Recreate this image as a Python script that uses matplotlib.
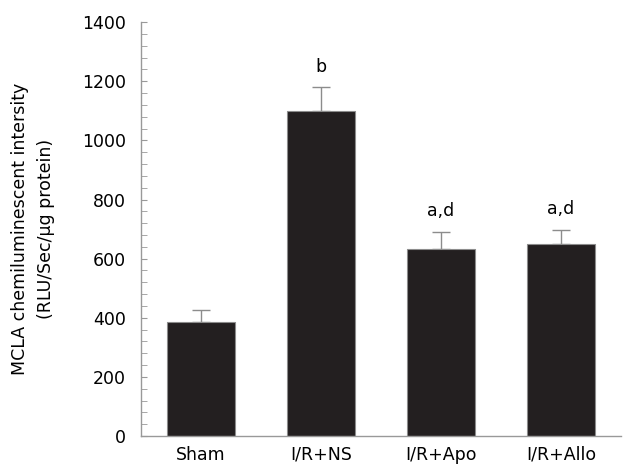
import matplotlib.pyplot as plt
from matplotlib.ticker import MultipleLocator

# Group names, means, upper error and significance letters
groups = ["Sham", "I/R+NS", "I/R+Apo", "I/R+Allo"]
means = [384, 1100, 632, 648]
errors = [42, 80, 59, 50]
marks = ["", "b", "a,d", "a,d"]

fs = 12.5

fig = plt.figure(figsize=(6.28, 4.71), dpi=100)
ax = fig.add_axes([0.2245, 0.0743, 0.7645, 0.8787])

x = range(len(groups))
ax.bar(x, means, width=0.56, color="#231f20", edgecolor="#8c8c8c", linewidth=0.8,
       zorder=2)
ax.errorbar(x, means, yerr=[[0] * len(errors), errors], fmt="none",
            ecolor="#8c8c8c", elinewidth=1, capsize=6.5, capthick=1, zorder=1)

for xi, m, e, t in zip(x, means, errors, marks):
    if t:
        ax.annotate(t, (xi, m + e), xytext=(0, 11), textcoords="offset points",
                    ha="center", va="baseline", fontsize=fs)

ax.set_xlim(-0.5, 3.5)
ax.set_ylim(0, 1400)
ax.yaxis.set_major_locator(MultipleLocator(200))
ax.yaxis.set_minor_locator(MultipleLocator(40))
ax.set_xticks(list(x))
ax.set_xticklabels(groups)

for side in ["top", "right"]:
    ax.spines[side].set_visible(False)
for side in ["left", "bottom"]:
    ax.spines[side].set_color("#999999")
    ax.spines[side].set_linewidth(1)

ax.tick_params(axis="y", which="both", direction="in", length=4, color="#999999",
               labelsize=fs, pad=11)
ax.tick_params(axis="x", length=0, labelsize=fs, pad=7)

ax.set_ylabel("MCLA chemiluminescent intersity\n(RLU/Sec/\u03bcg protein)",
              fontsize=fs, labelpad=19, linespacing=1.6)

fig.savefig("out.png", dpi=100)
